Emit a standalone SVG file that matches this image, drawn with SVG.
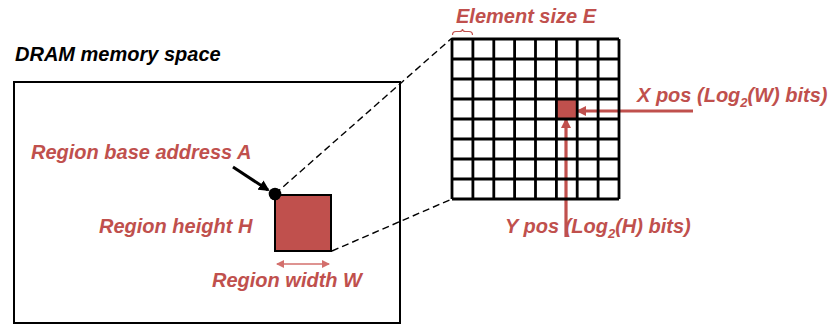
<svg xmlns="http://www.w3.org/2000/svg" width="828" height="325" viewBox="0 0 828 325">
<defs>
<style>
.lbl{font-family:"Liberation Sans",Arial,sans-serif;font-weight:bold;font-style:italic;font-size:20px;fill:#C0504D}
.hdr{font-family:"Liberation Sans",Arial,sans-serif;font-weight:bold;font-style:italic;font-size:20px;fill:#000}
.grid{stroke:#000;stroke-width:2.8;fill:none}
.dash{stroke:#000;stroke-width:1.4;stroke-dasharray:7,4;fill:none}
</style>
<marker id="redHead" markerWidth="10" markerHeight="10" refX="8" refY="5" orient="auto" markerUnits="userSpaceOnUse" viewBox="0 0 10 10">
<path d="M0,0 L10,5 L0,10 Z" fill="#C0504D"/>
</marker>
<marker id="blackHead" markerWidth="11" markerHeight="11" refX="9" refY="5.5" orient="auto" markerUnits="userSpaceOnUse" viewBox="0 0 11 11">
<path d="M0,0 L11,5.5 L0,11 Z" fill="#000"/>
</marker>
<marker id="smallHead" markerWidth="8" markerHeight="8" refX="7" refY="4" orient="auto-start-reverse" markerUnits="userSpaceOnUse" viewBox="0 0 8 8">
<path d="M0,0 L8,4 L0,8 Z" fill="#D36F6C"/>
</marker>
</defs>

<g id="dram-title"><text class="hdr" x="15" y="61">DRAM memory space</text></g>
<g id="dram-box"><rect x="14" y="82" width="386" height="241" fill="none" stroke="#000" stroke-width="2"/></g>

<g id="connectors">
<line class="dash" x1="275" y1="194" x2="452" y2="38"/>
<line class="dash" x1="332" y1="251" x2="452" y2="199"/>
<line x1="233" y1="167" x2="268" y2="190" stroke="#000" stroke-width="3" marker-end="url(#blackHead)"/>
<line x1="693" y1="111" x2="578" y2="111" stroke="#C0504D" stroke-width="3.2" marker-end="url(#redHead)"/>
<line x1="566" y1="237" x2="566" y2="120" stroke="#C0504D" stroke-width="3.2" marker-end="url(#redHead)"/>
<line x1="277" y1="264" x2="329" y2="264" stroke="#D36F6C" stroke-width="1.6" marker-start="url(#smallHead)" marker-end="url(#smallHead)"/>
</g>

<g id="region">
<rect x="275" y="195" width="56" height="56" fill="#C0504D" stroke="#000" stroke-width="2"/>
<circle cx="275" cy="194" r="6.3" fill="#000"/>
</g>

<g id="region-labels">
<text class="lbl" x="31" y="159">Region base address A</text>
<text class="lbl" x="99" y="233">Region height H</text>
<text class="lbl" x="212" y="287">Region width W</text>
</g>

<g id="element-grid">
<rect x="557" y="99" width="20" height="20" fill="#C0504D"/>
<path class="grid" d="M452,39 H619 M452,59 H619 M452,79 H619 M452,99 H619 M452,119 H619 M452,139 H619 M452,159 H619 M452,179 H619 M452,199 H619
M452,39 V199 M472.9,39 V199 M493.8,39 V199 M514.6,39 V199 M535.5,39 V199 M556.4,39 V199 M577.2,39 V199 M598.1,39 V199 M619,39 V199"/>
<path d="M452.5,35 Q452.5,31.5 456,31.5 L459.5,31.5 Q462.5,31.5 462.5,29 Q462.5,31.5 465.5,31.5 L469,31.5 Q472.5,31.5 472.5,35" fill="none" stroke="#C0504D" stroke-width="1.2"/>
</g>

<g id="grid-labels">
<text class="lbl" x="456" y="23">Element size E</text>
<text class="lbl" x="637" y="102">X pos (Log<tspan font-size="13px" dy="5">2</tspan><tspan dy="-5">(W) bits)</tspan></text>
<text class="lbl" x="505" y="233">Y pos (Log<tspan font-size="13px" dy="5">2</tspan><tspan dy="-5">(H) bits)</tspan></text>
</g>
</svg>
